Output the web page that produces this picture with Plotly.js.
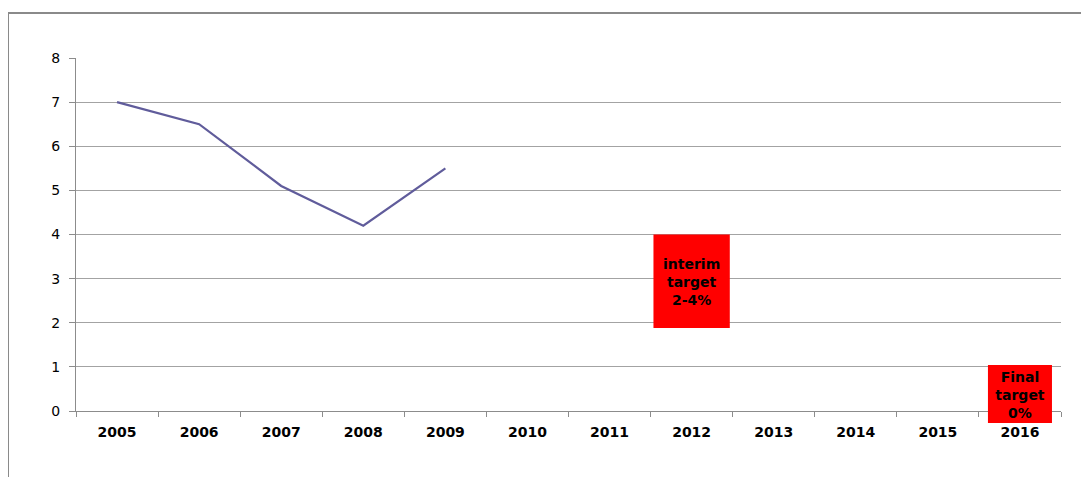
<!DOCTYPE html>
<html>
<head>
<meta charset="utf-8">
<script src="https://cdn.plot.ly/plotly-3.0.1.min.js"></script>
<style>
html,body{margin:0;padding:0;background:#fff;}
#wrap{position:relative;width:1081px;height:477px;overflow:hidden;}
#frame{position:absolute;left:8px;top:12px;width:1100px;height:500px;border-left:1px solid #8a8a8a;border-top:2px solid #8a8a8a;box-sizing:border-box;pointer-events:none;}
#chart{position:absolute;left:0;top:0;width:1081px;height:477px;}
</style>
</head>
<body>
<div id="wrap">
<div id="chart"></div>
<div id="frame"></div>
</div>
<script>
// Data
const years = ['2005','2006','2007','2008','2009','2010','2011','2012','2013','2014','2015','2016'];
const seriesYears = ['2005','2006','2007','2008','2009'];
const seriesValues = [7.0, 6.5, 5.1, 4.2, 5.5];
const targetYears = ['2012','2016'];
const targetLow = [1.88, -0.27];
const targetHigh = [4.0, 1.04];
const targetWidths = [0.93, 0.78];
const targetLabels = ['interim<br>target<br>2-4%', 'Final<br>target<br>0%'];
const yTicks = [0,1,2,3,4,5,6,7,8];
const yRange = [0, 8];

const lineTrace = {
  type: 'scatter', mode: 'lines',
  x: seriesYears, y: seriesValues,
  line: {color: '#605c9b', width: 2.2},
  hoverinfo: 'skip', showlegend: false
};

// y value -> fraction of the plot height for the y axis range (boxes may extend below the axis)
const toFrac = v => (v - yRange[0]) / (yRange[1] - yRange[0]);

const shapes = targetYears.map((yr, i) => {
  const idx = years.indexOf(yr);
  return {
    type: 'rect', xref: 'x', yref: 'paper', layer: 'above',
    x0: idx - targetWidths[i] / 2, x1: idx + targetWidths[i] / 2,
    y0: toFrac(targetLow[i]), y1: toFrac(targetHigh[i]),
    fillcolor: '#ff0000', line: {width: 0},
    label: {
      text: targetLabels[i], textposition: 'middle center',
      font: {family: 'DejaVu Sans', size: 14, color: '#000', weight: 'bold'}
    }
  };
});

const layout = {
  width: 1081, height: 477,
  margin: {l: 76, r: 20, t: 58, b: 66},
  paper_bgcolor: 'rgba(0,0,0,0)', plot_bgcolor: 'rgba(0,0,0,0)',
  showlegend: false,
  shapes: shapes,
  xaxis: {
    type: 'category',
    categoryorder: 'array', categoryarray: years,
    range: [-0.5, years.length - 0.5],
    showgrid: false, zeroline: false,
    showline: true, linecolor: '#8c8c8c', linewidth: 1,
    ticks: 'outside', tickson: 'boundaries', ticklen: 5, tickcolor: '#8c8c8c',
    tickfont: {family: 'DejaVu Sans', size: 14, color: '#000', weight: 'bold'},
    ticklabelstandoff: 8,
    layer: 'below traces', fixedrange: true
  },
  yaxis: {
    range: yRange,
    tickvals: yTicks,
    showgrid: true, gridcolor: '#a3a3a3', gridwidth: 1,
    zeroline: false,
    showline: true, linecolor: '#8c8c8c', linewidth: 1,
    ticks: 'outside', ticklen: 6, tickcolor: '#8c8c8c',
    tickfont: {family: 'DejaVu Sans', size: 14, color: '#000'},
    ticklabelstandoff: 6,
    layer: 'below traces', fixedrange: true
  }
};

Plotly.newPlot('chart', [lineTrace], layout, {displayModeBar: false, staticPlot: true});
</script>
</body>
</html>
